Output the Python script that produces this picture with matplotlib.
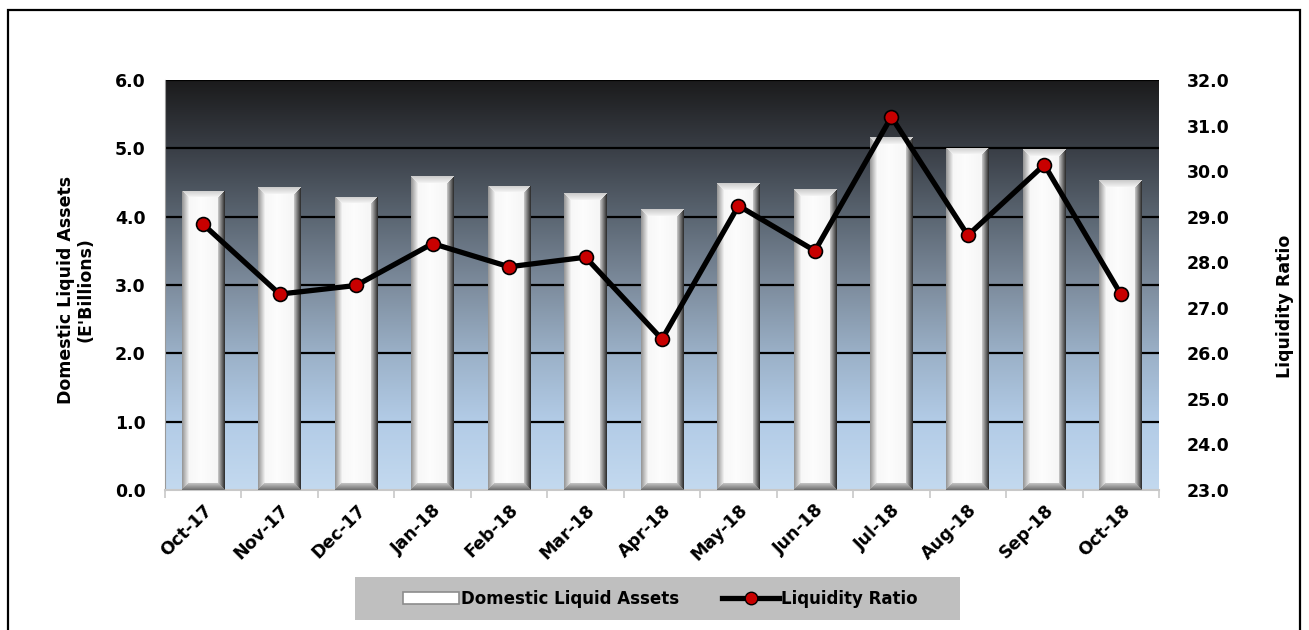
import matplotlib
matplotlib.use("Agg")
import matplotlib.pyplot as plt
import numpy as np
from matplotlib.patches import Rectangle, Patch
from matplotlib.lines import Line2D
from matplotlib.colors import LinearSegmentedColormap

months = ["Oct-17", "Nov-17", "Dec-17", "Jan-18", "Feb-18", "Mar-18", "Apr-18",
          "May-18", "Jun-18", "Jul-18", "Aug-18", "Sep-18", "Oct-18"]
liquid_assets = [4.38, 4.43, 4.29, 4.59, 4.45, 4.34, 4.11,
                 4.49, 4.40, 5.16, 5.01, 4.99, 4.53]
liquidity_ratio = [28.83, 27.30, 27.49, 28.41, 27.90, 28.11, 26.31,
                   29.24, 28.25, 31.19, 28.59, 30.14, 27.30]

W, H, DPI = 1309, 630, 100
plt.rcParams['font.family'] = ['DejaVu Sans']

fig = plt.figure(figsize=(W / DPI, H / DPI), dpi=DPI)
fig.patch.set_facecolor("white")

# plot area in pixels: x 165..1159, y 80..490
ax = fig.add_axes([165 / W, 1 - 490 / H, (1159 - 165) / W, (490 - 80) / H])
ax2 = ax.twinx()
ax2.set_zorder(ax.get_zorder() + 1)
ax2.patch.set_visible(False)

ax.set_xlim(-0.5, len(months) - 0.5)
ax.set_ylim(0, 6)
ax2.set_ylim(23, 32)

# background gradient, light blue at the bottom to almost black on top
bg_cmap = LinearSegmentedColormap.from_list("bg", [
    (0.0, "#c3d9ef"), (0.17, "#b2cbe6"), (0.33, "#9bb1c8"),
    (0.5, "#7d8c9d"), (0.67, "#5a6571"), (0.83, "#3a3f47"), (1.0, "#1b1b1c")])
grad = np.linspace(0, 1, 256).reshape(-1, 1)
ax.imshow(grad, cmap=bg_cmap, origin="lower", aspect="auto",
          extent=(0, 1, 0, 1), transform=ax.transAxes, zorder=0)

for yv in range(1, 7):
    ax.axhline(yv, color="black", lw=1.6, zorder=1)

# bars, then a bevel shading clipped to each one
bar_w = 0.56
bars = ax.bar(range(len(months)), liquid_assets, width=bar_w, color="white",
              edgecolor="none", zorder=2)

px_x = (1159 - 165) / len(months)
px_y = (490 - 80) / 6.0


def bevel(wp, hp, b=7):
    xs = np.arange(wp)[None, :].repeat(hp, 0).astype(float)
    ys = np.arange(hp)[:, None].repeat(wp, 1).astype(float)
    d_left = xs
    d_right = wp - 1 - xs
    d_top = ys
    d_bot = hp - 1 - ys
    shade = np.ones((hp, wp)) * 0.99
    # soft shading in the middle of the bar
    mid = np.abs(xs / (wp - 1) - 0.45)
    shade -= 0.07 * mid
    dmin = np.minimum(np.minimum(d_left, d_right), np.minimum(d_top, d_bot))
    edge = dmin < b
    t = np.clip(dmin / b, 0, 1)
    left = edge & (d_left == dmin)
    right = edge & (d_right == dmin)
    top = edge & (d_top == dmin)
    bot = edge & (d_bot == dmin)
    shade[left] = (0.6 + 0.38 * t)[left]
    shade[right] = (0.2 + 0.65 * t)[right]
    shade[top] = (0.8 + 0.17 * t)[top]
    shade[bot] = (0.45 + 0.35 * t)[bot]
    return np.dstack([shade, shade, shade])


for rect, val in zip(bars, liquid_assets):
    x0 = rect.get_x()
    wp = int(round(bar_w * px_x))
    hp = int(round(val * px_y))
    img = bevel(wp, hp)
    im = ax.imshow(img, origin="upper", aspect="auto", interpolation="bilinear",
                   extent=(x0, x0 + bar_w, 0, val), zorder=3)
    im.set_clip_path(rect)

ax.set_xlim(-0.5, len(months) - 0.5)
ax.set_ylim(0, 6)

# liquidity ratio line
ax2.plot(range(len(months)), liquidity_ratio, color="black", lw=3.8,
         marker="o", markersize=10, markerfacecolor="#c80000",
         markeredgecolor="black", markeredgewidth=1.2, zorder=5)

tick_font = dict(fontsize=12.5, fontweight="bold")
ax.set_yticks(np.arange(0, 7, 1))
ax.set_yticklabels([f"{v:.1f}" for v in np.arange(0, 7, 1)], **tick_font)
ax2.set_yticks(np.arange(23, 33, 1))
ax2.set_yticklabels([f"{v:.1f}" for v in np.arange(23, 33, 1)], **tick_font)
ax.set_xticks(range(len(months)))
ax.set_xticklabels(months, rotation=45, ha="right", rotation_mode="anchor", **tick_font)
ax.set_xticks(np.arange(-0.5, len(months), 1), minor=True)
ax.tick_params(axis="x", which="major", length=0, pad=8)
ax.tick_params(axis="x", which="minor", length=6, color="#c8c8c8", width=1.2)
ax.tick_params(axis="y", length=0, pad=14)
ax2.tick_params(axis="y", length=0, pad=20)

for a in (ax, ax2):
    for s in ("top", "right"):
        a.spines[s].set_visible(False)
ax2.spines["left"].set_visible(False)
ax2.spines["bottom"].set_visible(False)
ax.spines["left"].set_color("#9a9a9a")
ax.spines["bottom"].set_color("#c8c8c8")
ax.spines["bottom"].set_linewidth(1.5)

fig.text(76 / W, 1 - 290 / H, "Domestic Liquid Assets\n(E'Billions)", rotation=90,
         ha="center", va="center", fontsize=12.5, fontweight="bold",
         multialignment="center", linespacing=1.1)
fig.text(1285 / W, 1 - 306 / H, "Liquidity Ratio", rotation=90,
         ha="center", va="center", fontsize=12.5, fontweight="bold")

# legend on a gray band under the chart
fig.add_artist(Rectangle((355 / W, 1 - 620 / H), 605 / W, 43 / H,
                         transform=fig.transFigure, facecolor="#bfbfbf",
                         edgecolor="none", zorder=1))
handles = [Patch(facecolor="white", edgecolor="#8c8c8c", linewidth=1.2),
           Line2D([], [], color="black", lw=3.8, marker="o", markersize=9,
                  markerfacecolor="#c80000", markeredgecolor="black")]
fig.legend(handles, ["Domestic Liquid Assets", "Liquidity Ratio"],
           loc="center", bbox_to_anchor=(660 / W, 1 - 599 / H), ncol=2,
           frameon=False, handlelength=3.4, handletextpad=0.1, columnspacing=2.6,
           prop=dict(size=12, weight="bold"))

# outer frame
fig.add_artist(Rectangle((8 / W, -0.05), (1300 - 8) / W, 1 - 10 / H + 0.05,
                         transform=fig.transFigure, facecolor="none",
                         edgecolor="black", linewidth=1.6, zorder=0))

fig.savefig("out.png", dpi=DPI)
